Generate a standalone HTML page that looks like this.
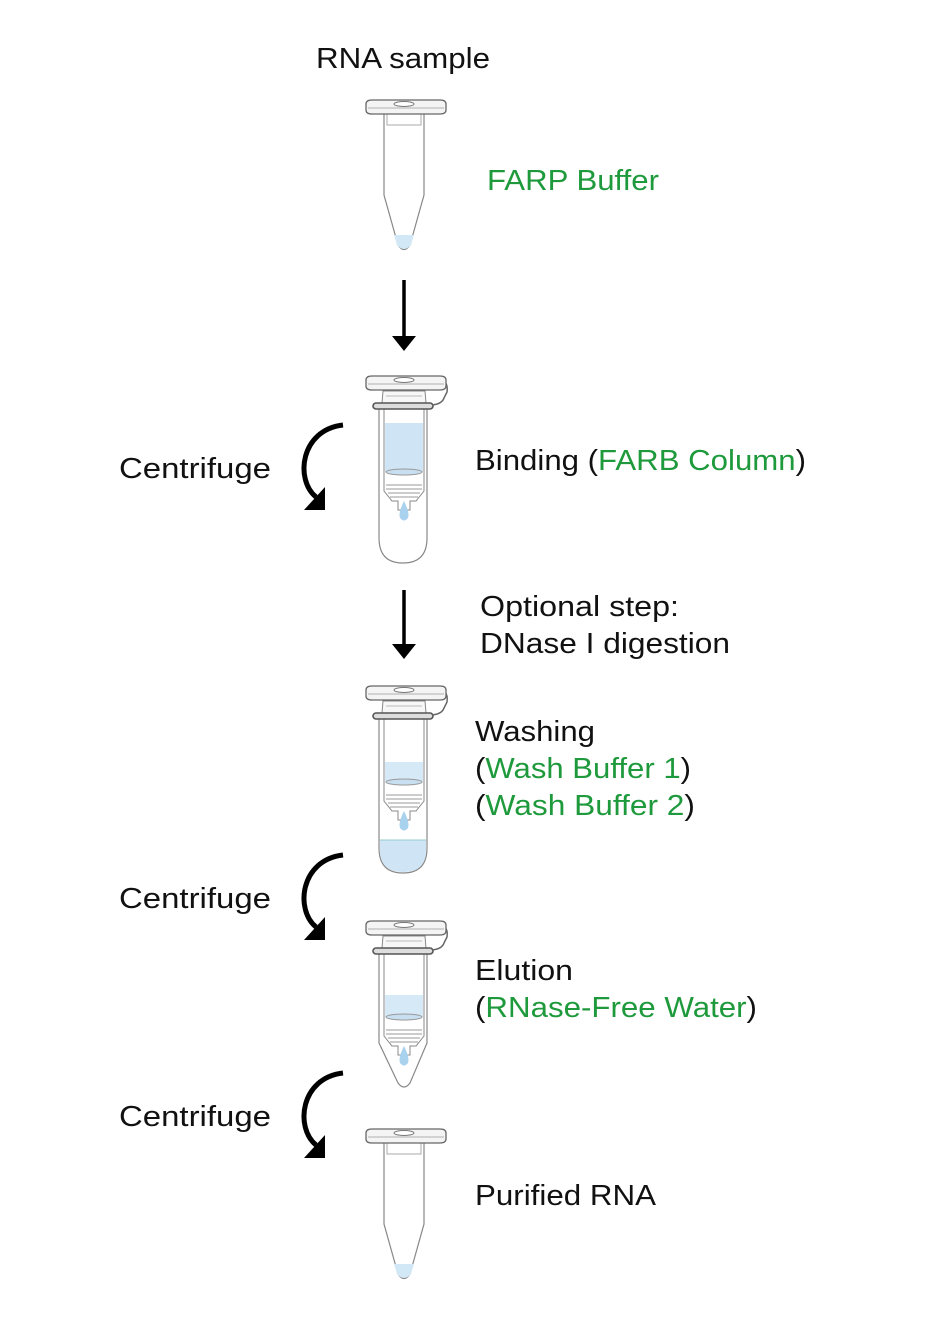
<!DOCTYPE html>
<html><head><meta charset="utf-8"><style>
html,body{margin:0;padding:0;background:#fff}
svg{display:block}
text{font-family:"Liberation Sans",sans-serif;font-size:29px;fill:#111}
.g{fill:#1e9a3c}
</style></head><body>
<svg width="926" height="1320" viewBox="0 0 926 1320" xmlns="http://www.w3.org/2000/svg">
<defs>
  <g id="cap">
    <path d="M366,-8 Q366,-12 372,-12 L440,-12 Q446,-12 446,-8 L446,-2 Q446,2 440,2 L372,2 Q366,2 366,-2 Z" fill="#f4f4f4" stroke="#666" stroke-width="1.3"/>
    <ellipse cx="404" cy="-8" rx="10" ry="2.5" fill="#fff" stroke="#777" stroke-width="1"/>
    <line x1="368" y1="-4" x2="444" y2="-4" stroke="#999" stroke-width="0.8"/>
  </g>
  <g id="arc">
    <path d="M343,0 C300,5 295,55 316,72" fill="none" stroke="#000" stroke-width="5"/>
    <polygon points="304,85 325,85 325,62" fill="#000"/>
  </g>
  <g id="col">
    <path d="M382,15 L383,3 L425,3 L426,15" fill="#f7f7f7" stroke="#888" stroke-width="1"/>
    <line x1="386" y1="8" x2="422" y2="8" stroke="#bbb" stroke-width="1"/>
    <path d="M384,21 L384,103 L392,113 L398,113 L398,122 L410,122 L410,113 L416,113 L424,103 L424,21" fill="none" stroke="#888" stroke-width="1"/>
    <line x1="386" y1="97" x2="422" y2="97" stroke="#999" stroke-width="1"/>
    <line x1="386" y1="101" x2="422" y2="101" stroke="#999" stroke-width="1"/>
    <line x1="388" y1="105" x2="420" y2="105" stroke="#999" stroke-width="1"/>
    <line x1="390" y1="109" x2="418" y2="109" stroke="#999" stroke-width="1"/>
  </g>
  <g id="ring">
    <rect x="373" y="15" width="60" height="6" rx="3" fill="#ddd" stroke="#555" stroke-width="1.6"/>
    <path d="M434,-8 Q449,-10 447,4 L444,10 Q442,16 432,17" fill="none" stroke="#666" stroke-width="1.5"/>
  </g>
</defs>

<text x="316" y="68" textLength="174" lengthAdjust="spacingAndGlyphs">RNA sample</text>
<text x="487" y="190" class="g" textLength="172" lengthAdjust="spacingAndGlyphs">FARP Buffer</text>

<!-- tube 1 -->
<g transform="translate(0,112)">
  <path d="M384,0 L384,83 L398,133 Q404,142 410,133 L424,83 L424,0" fill="#fff" stroke="#888" stroke-width="1.2"/>
  <path d="M394,123 L414,123 L411,133 Q404,141 397,133 Z" fill="#d2e8f6"/>
  <rect x="387" y="2" width="34" height="11" fill="none" stroke="#aaa" stroke-width="1"/>
  <use href="#cap"/>
</g>

<line x1="404" y1="280" x2="404" y2="338" stroke="#000" stroke-width="3.5"/>
<polygon points="392,336 416,336 404,351" fill="#000"/>
<line x1="404" y1="590" x2="404" y2="646" stroke="#000" stroke-width="3.5"/>
<polygon points="392,644 416,644 404,659" fill="#000"/>

<!-- tube 2 -->
<g transform="translate(0,388)">
  <path d="M379,21 L379,150 Q379,175 403,175 Q427,175 427,150 L427,21" fill="#fff" stroke="#888" stroke-width="1.2"/>
  <rect x="385" y="35" width="38" height="49" fill="#cfe5f6"/>
  <ellipse cx="404" cy="84" rx="18" ry="3" fill="#c7dff0" stroke="#999" stroke-width="1"/>
  <use href="#col"/>
  <path d="M404,113 Q398,125 400,130 Q404,135 408,130 Q410,125 404,113 Z" fill="#a9d2ef"/>
  <use href="#ring"/>
  <use href="#cap"/>
</g>
<use href="#arc" transform="translate(0,425)"/>
<text x="119" y="478" textLength="152" lengthAdjust="spacingAndGlyphs">Centrifuge</text>
<text x="475" y="470" textLength="331" lengthAdjust="spacingAndGlyphs">Binding (<tspan class="g">FARB Column</tspan>)</text>

<text x="480" y="616" textLength="199" lengthAdjust="spacingAndGlyphs">Optional step:</text>
<text x="480" y="653" textLength="250" lengthAdjust="spacingAndGlyphs">DNase I digestion</text>

<!-- tube 3 -->
<g transform="translate(0,698)">
  <path d="M379,21 L379,150 Q379,175 403,175 Q427,175 427,150 L427,21" fill="#fff" stroke="#888" stroke-width="1.2"/>
  <path d="M380,142 L426,142 L426,150 Q427,174 403,174 Q379,174 380,150 Z" fill="#cfe5f6"/>
  <line x1="380" y1="142" x2="426" y2="142" stroke="#9cc" stroke-width="1"/>
  <rect x="385" y="64" width="38" height="20" fill="#d6e9f7"/>
  <ellipse cx="404" cy="84" rx="18" ry="3" fill="#c7dff0" stroke="#999" stroke-width="1"/>
  <use href="#col"/>
  <path d="M404,113 Q398,125 400,130 Q404,135 408,130 Q410,125 404,113 Z" fill="#a9d2ef"/>
  <use href="#ring"/>
  <use href="#cap"/>
</g>
<text x="475" y="741" textLength="120" lengthAdjust="spacingAndGlyphs">Washing</text>
<text x="475" y="778" textLength="216" lengthAdjust="spacingAndGlyphs">(<tspan class="g">Wash Buffer 1</tspan>)</text>
<text x="475" y="815" textLength="220" lengthAdjust="spacingAndGlyphs">(<tspan class="g">Wash Buffer 2</tspan>)</text>

<use href="#arc" transform="translate(0,855)"/>
<text x="119" y="908" textLength="152" lengthAdjust="spacingAndGlyphs">Centrifuge</text>

<!-- tube 4 -->
<g transform="translate(0,933)">
  <path d="M379,21 L379,110 L398,150 Q404,158 410,150 L427,110 L427,21" fill="#fff" stroke="#888" stroke-width="1.2"/>
  <rect x="385" y="62" width="38" height="22" fill="#d6e9f7"/>
  <ellipse cx="404" cy="84" rx="18" ry="3" fill="#c7dff0" stroke="#999" stroke-width="1"/>
  <use href="#col"/>
  <path d="M404,113 Q398,125 400,130 Q404,135 408,130 Q410,125 404,113 Z" fill="#a9d2ef"/>
  <use href="#ring"/>
  <use href="#cap"/>
</g>
<text x="475" y="980" textLength="98" lengthAdjust="spacingAndGlyphs">Elution</text>
<text x="475" y="1017" textLength="282" lengthAdjust="spacingAndGlyphs">(<tspan class="g">RNase-Free Water</tspan>)</text>

<use href="#arc" transform="translate(0,1073)"/>
<text x="119" y="1126" textLength="152" lengthAdjust="spacingAndGlyphs">Centrifuge</text>

<!-- tube 5 -->
<g transform="translate(0,1141)">
  <path d="M384,0 L384,83 L398,133 Q404,142 410,133 L424,83 L424,0" fill="#fff" stroke="#888" stroke-width="1.2"/>
  <path d="M394,123 L414,123 L411,133 Q404,141 397,133 Z" fill="#d2e8f6"/>
  <rect x="387" y="2" width="34" height="11" fill="none" stroke="#aaa" stroke-width="1"/>
  <use href="#cap"/>
</g>
<text x="475" y="1205" textLength="181" lengthAdjust="spacingAndGlyphs">Purified RNA</text>
</svg>
</body></html>
